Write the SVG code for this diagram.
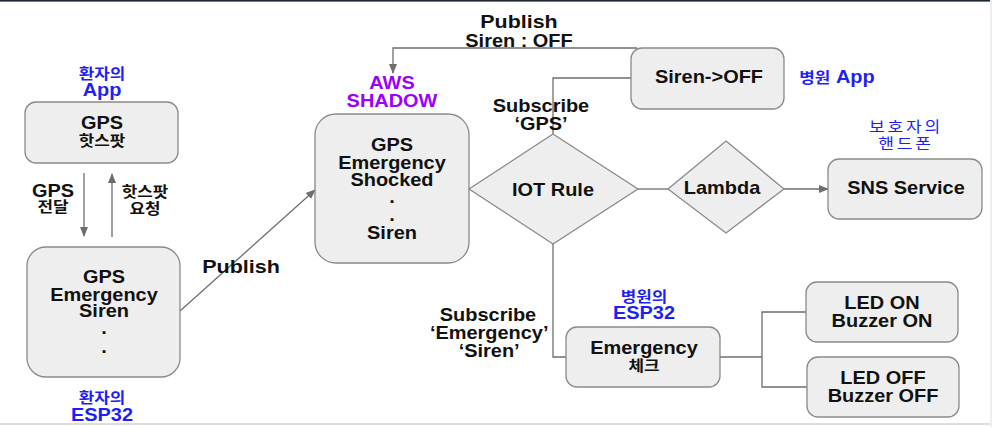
<svg xmlns="http://www.w3.org/2000/svg" width="992" height="427" viewBox="0 0 992 427">
<style>
.box{fill:#eeeeee;stroke:#8a8a8a;stroke-width:1.3}
.con{fill:none;stroke:#6e6e6e;stroke-width:1.3}
text{font-family:"Liberation Sans",Arial,"Noto Sans CJK KR",sans-serif;font-weight:bold;font-size:17.5px;text-anchor:middle;fill:#111}
.k{font-family:"Noto Sans CJK KR","Liberation Sans",sans-serif;font-size:14.8px}
.blue{fill:#1f1ff5}
.purple{fill:#9a00ff}
.light{font-family:"Noto Sans CJK KR",sans-serif;font-weight:normal;font-size:15px;letter-spacing:2.4px}
</style>
<defs>
<marker id="arr" markerUnits="userSpaceOnUse" markerWidth="10" markerHeight="10" viewBox="0 0 10 10" refX="9" refY="5" orient="auto">
<path d="M0,1 L10,5 L0,9 z" fill="#6e6e6e"/>
</marker>
</defs>
<rect x="0" y="0" width="992" height="427" fill="#ffffff"/>
<rect x="0" y="0" width="992" height="1.6" fill="#1f2630"/>
<rect x="0" y="423.5" width="992" height="1" fill="#bdbdbd"/>
<rect x="990" y="0" width="2" height="427" fill="#eeeeee"/>

<g id="connectors">
<line class="con" x1="84" y1="173" x2="84" y2="236" marker-end="url(#arr)"/>
<line class="con" x1="112" y1="237" x2="112" y2="174" marker-end="url(#arr)"/>
<line class="con" x1="180" y1="311" x2="315" y2="190" marker-end="url(#arr)"/>
<polyline class="con" points="637,48 393,48 393,73" marker-end="url(#arr)"/>
<polyline class="con" points="631,78 553,78 553,134"/>
<line class="con" x1="638" y1="189" x2="668" y2="189"/>
<line class="con" x1="784" y1="189" x2="828" y2="189" marker-end="url(#arr)"/>
<polyline class="con" points="553,244 553,357 566,357"/>
<line class="con" x1="720" y1="357" x2="762" y2="357"/>
<polyline class="con" points="806,312 762,312 762,387 807,387"/>
</g>

<g id="label-gps-send" transform="translate(53 0) scale(1.14 1)">
<text x="0" y="197">GPS<tspan class="k" x="0" y="212">전달</tspan></text>
</g>
<g id="label-hotspot-req" transform="translate(145 0) scale(1.14 1)">
<text class="k" x="0" y="197">핫스팟<tspan x="0" y="214">요청</tspan></text>
</g>
<g id="label-publish" transform="translate(241 0) scale(1.23 1)">
<text x="0" y="273">Publish</text>
</g>
<g id="label-publish-off" transform="translate(519 0) scale(1.14 1)">
<text x="0" y="28"><tspan x="0" y="28" font-size="18.8px">Publish</tspan><tspan x="0" y="47">Siren : OFF</tspan></text>
</g>
<g id="label-sub-gps" transform="translate(541 0) scale(1.14 1)">
<text x="0" y="112">Subscribe<tspan x="0" y="130">‘GPS’</tspan></text>
</g>
<g id="label-sub-em" transform="translate(488 0) scale(1.14 1)">
<text x="0" y="321">Subscribe<tspan x="1" y="339">‘Emergency’</tspan><tspan x="1" y="357">‘Siren’</tspan></text>
</g>

<g id="node-app">
<rect class="box" x="25" y="102" width="153" height="61" rx="11"/>
<g transform="translate(102 0) scale(1.14 1)">
<text x="0" y="129">GPS<tspan class="k" x="0" y="146">핫스팟</tspan></text>
<text class="blue" x="0" y="79"><tspan class="k">환자의</tspan><tspan x="0" y="96">App</tspan></text>
</g>
</g>

<g id="node-esp32">
<rect class="box" x="27" y="247" width="153" height="130" rx="19"/>
<g transform="translate(104 0) scale(1.14 1)">
<text x="0" y="283">GPS<tspan x="0" y="301">Emergency</tspan><tspan x="0" y="317">Siren</tspan><tspan x="0" y="334">.</tspan><tspan x="0" y="353">.</tspan></text>
</g>
<g transform="translate(102 0) scale(1.14 1)">
<text class="blue" x="0" y="403"><tspan class="k">환자의</tspan><tspan x="0" y="421">ESP32</tspan></text>
</g>
</g>

<g id="node-shadow">
<rect class="box" x="315" y="114" width="154" height="149" rx="21"/>
<g transform="translate(392 0) scale(1.14 1)">
<text x="0" y="151">GPS<tspan x="0" y="169">Emergency</tspan><tspan x="0" y="186">Shocked</tspan><tspan x="0" y="203">.</tspan><tspan x="0" y="221">.</tspan><tspan x="0" y="239">Siren</tspan></text>
<text class="purple" x="0" y="89">AWS<tspan x="0" y="107">SHADOW</tspan></text>
</g>
</g>

<g id="node-iot">
<polygon class="box" points="553,134 638,189 553,244 469,189"/>
<g transform="translate(553 0) scale(1.14 1)">
<text x="0" y="196">IOT Rule</text>
</g>
</g>

<g id="node-siren-off">
<rect class="box" x="631" y="48" width="153" height="61" rx="11"/>
<g transform="translate(709 0) scale(1.14 1)">
<text x="0" y="83">Siren-&gt;OFF</text>
</g>
<g transform="translate(837 0) scale(1.14 1)">
<text class="blue" x="0" y="83"><tspan class="k">병원</tspan> App</text>
</g>
</g>

<g id="node-lambda">
<polygon class="box" points="726,141 784,189 726,233 668,189"/>
<g transform="translate(722 0) scale(1.14 1)">
<text x="0" y="194">Lambda</text>
</g>
</g>

<g id="node-sns">
<rect class="box" x="828" y="159" width="154" height="60" rx="11"/>
<g transform="translate(906 0) scale(1.14 1)">
<text x="0" y="194">SNS Service</text>
<text class="light blue" x="0" y="132">보호자의<tspan x="0" y="149">핸드폰</tspan></text>
</g>
</g>

<g id="node-emergency">
<rect class="box" x="566" y="327" width="154" height="60" rx="11"/>
<g transform="translate(644 0) scale(1.14 1)">
<text x="0" y="354">Emergency<tspan class="k" x="0" y="371">체크</tspan></text>
<text class="blue" x="0" y="302"><tspan class="k">병원의</tspan><tspan x="0" y="319">ESP32</tspan></text>
</g>
</g>

<g id="node-led-on">
<rect class="box" x="806" y="282" width="152" height="60" rx="11"/>
<g transform="translate(882 0) scale(1.14 1)">
<text x="0" y="309">LED ON<tspan x="0" y="327">Buzzer ON</tspan></text>
</g>
</g>

<g id="node-led-off">
<rect class="box" x="807" y="357" width="152" height="60" rx="11"/>
<g transform="translate(883 0) scale(1.14 1)">
<text x="0" y="384">LED OFF<tspan x="0" y="402">Buzzer OFF</tspan></text>
</g>
</g>
</svg>
